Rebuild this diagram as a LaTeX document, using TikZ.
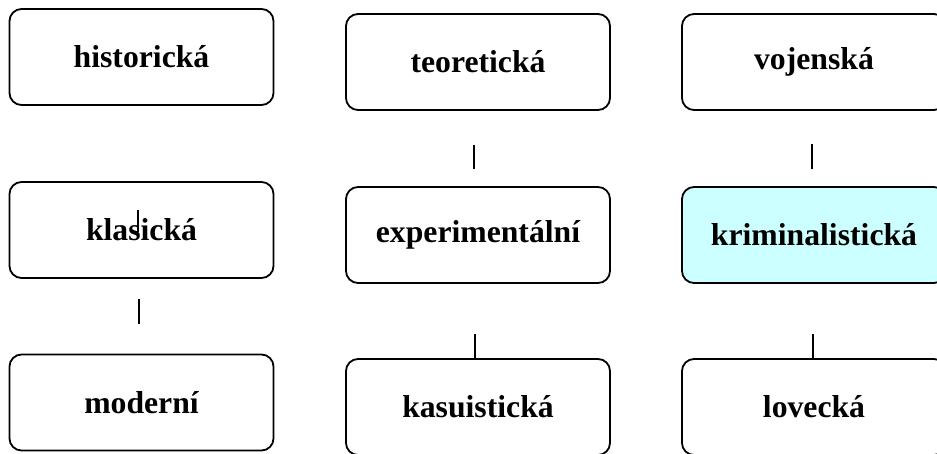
\documentclass[tikz,border=0pt]{standalone}
\usepackage{fontspec}
\setmainfont{Liberation Serif}
\usepackage{tikz}
\usepackage{xcolor}
\definecolor{krimcyan}{RGB}{204, 255, 255}

\begin{document}
\begin{tikzpicture}[
        x=1pt, y=1pt,
        oblast/.style={
            draw, line width=1.8pt, rounded corners=12pt,
            minimum width=264pt, minimum height=96pt,
            font=\bfseries\fontsize{31.7}{38}\selectfont
        },
        spoj/.style={line width=1.2pt},
    ]
    \useasboundingbox (0,0) rectangle (937,453);
    % levy sloupec
    \node[oblast] (hist) at (141.5,396) {historická};
    \node[oblast] (klas) at (141.5,223) {klasická};
    \node[oblast] (mod) at (141.5,50.5) {moderní};
    % prostredni sloupec
    \node[oblast] (teor) at (478,391) {teoretická};
    \node[oblast] (exper) at (478,218) {experimentální};
    \node[oblast] (kasu) at (478,46) {kasuistická};
    % pravy sloupec
    \node[oblast] (voj) at (814,391) {vojenská};
    \node[oblast, fill=krimcyan] (krim) at (814,218) {kriminalistická};
    \node[oblast] (lov) at (814,46) {lovecká};
    % spojnice
    \draw[spoj] ([xshift=-3.5pt, yshift=-2pt]klas.center) -- ++(0,22);
    \draw[spoj] ([xshift=-2.5pt, yshift=-20pt]klas.south) -- ++(0,-25);
    \draw[spoj] ([xshift=-4pt, yshift=17pt]exper.north) -- ++(0,24);
    \draw[spoj] ([xshift=-3pt]kasu.north) -- ++(0,24);
    \draw[spoj] ([xshift=-2pt, yshift=17pt]krim.north) -- ++(0,25);
    \draw[spoj] ([xshift=-1pt]lov.north) -- ++(0,24);
\end{tikzpicture}
\end{document}
